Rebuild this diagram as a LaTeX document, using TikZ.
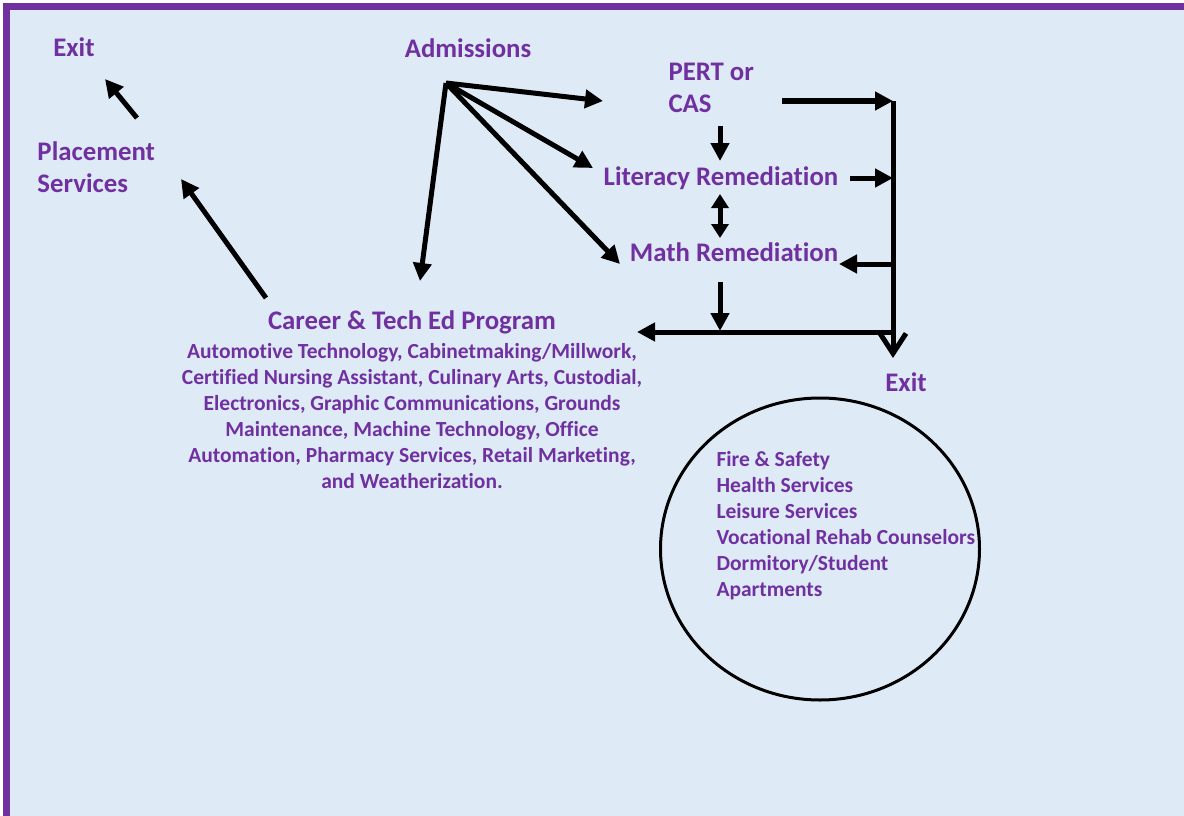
\documentclass[tikz,border=0pt]{standalone}
\usepackage{fontspec}
\setmainfont{Carlito}[Ligatures=NoCommon]
\usetikzlibrary{arrows.meta,shapes.geometric,positioning}
\definecolor{labelpurple}{HTML}{7030A0}
\definecolor{pagebg}{HTML}{DEEBF7}

\begin{document}
\begin{tikzpicture}[x=1pt,y=-1pt,line width=5pt,line join=miter,
  >={Triangle[length=18pt,width=18pt]},
  every node/.style={text=labelpurple,font=\bfseries\fontsize{26.8}{32}\selectfont,inner sep=0pt,align=left},
  small/.style={font=\bfseries\fontsize{21.5}{26}\selectfont},
  flow/.style={->,line width=5pt}]
  % page and frame
  \fill[white] (0,0) rectangle (1184,816);
  \fill[labelpurple] (3,3) rectangle (1184,816);
  \fill[pagebg] (10,10) rectangle (1184,816);
  \useasboundingbox (0,0) rectangle (1184,816);

  \node (exitL) at (74,47) {Exit};
  \node [anchor=west] (place) at (35,167) {Placement\\Services};
  \node (adm) at (468,48) {Admissions};
  \node [anchor=west] (pert) at (666,88) {PERT or\\CAS};
  \node (lit) at (721,178) {Literacy Remediation};
  \node (math) at (734,252) {Math Remediation};
  \node (prog) at (412,322) {Career \& Tech Ed Program};
  \node [small,align=center] (progList) at (412,416) {Automotive Technology, Cabinetmaking/Millwork,\\
    Certified Nursing Assistant, Culinary Arts, Custodial,\\
    Electronics, Graphic Communications, Grounds\\
    Maintenance, Machine Technology, Office\\
    Automation, Pharmacy Services, Retail Marketing,\\
    and Weatherization.};
  \node (exitR) at (906,382) {Exit};
  \node [draw=black,line width=3pt,ellipse,minimum width=319pt,minimum height=302pt] (svc) at (820,549) {};
  \node [small,anchor=west] (svcList) at (714,526) {Fire \& Safety\\
    Health Services\\
    Leisure Services\\
    Vocational Rehab Counselors\\
    Dormitory/Student\\
    Apartments};

  % arrow ends
  \coordinate (hub) at (446,83);
  \coordinate (hubProg) at (420,281);
  \coordinate (hubPert) at (603,101);
  \coordinate (hubLit) at (593,168);
  \coordinate (hubMath) at (620,264);
  \coordinate (progOut) at (266,298);
  \coordinate (placeIn) at (181,179);
  \coordinate (placeOut) at (137,118);
  \coordinate (exitIn) at (105,79);
  \coordinate (pertOut) at (782,101);
  \coordinate (pertDown) at (720,126);
  \coordinate (litIn) at (720,161);
  \coordinate (litTop) at (720,194);
  \coordinate (mathTop) at (720,238);
  \coordinate (litOut) at (850,178);
  \coordinate (mathIn) at (839,264);
  \coordinate (mathOut) at (720,282);
  \coordinate (busLow) at (720,331);
  \coordinate (progIn) at (637,332);
  \coordinate (busTop) at (893,101);
  \coordinate (busLit) at (893,178);
  \coordinate (busMath) at (893,264);
  \coordinate (busCorner) at (893,332);
  \coordinate (busEnd) at (893,358);

  \path (hub) edge[flow] (hubProg);
  \path (hub) edge[flow] (hubPert);
  \path (hub) edge[flow] (hubLit);
  \path (hub) edge[flow] (hubMath);
  \path (progOut) edge[flow] (placeIn);
  \path (placeOut) edge[flow] (exitIn);
  \path (pertOut) edge[flow] (busTop);
  \path (pertDown) edge[flow] (litIn);
  \path (litTop) edge[<->,>={Triangle[length=14pt,width=17pt]}] (mathTop);
  \path (litOut) edge[flow] (busLit);
  \path (busMath) edge[flow] (mathIn);
  \path (mathOut) edge[flow] (busLow);
  \path (busCorner) edge[flow] (progIn);
  \draw[-{Straight Barb[length=20pt,width=26pt]}] (busTop) -- (busEnd);
\end{tikzpicture}
\end{document}
